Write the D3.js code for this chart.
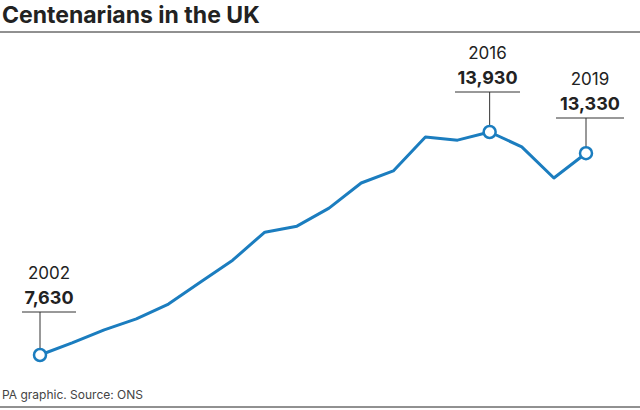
<!DOCTYPE html>
<html><head><meta charset="utf-8">
<script src="https://cdn.jsdelivr.net/npm/d3@7"></script>
<style>body{margin:0;background:#fff;font-family:Inter,"Open Sans",sans-serif}</style>
</head><body>
<script>
var years = [2002,2003,2004,2005,2006,2007,2008,2009,2010,2011,2012,2013,2014,2015,2016,2017,2018,2019];
var values = [7630,7970,8340,8650,9070,9690,10310,11100,11270,11780,12490,12830,13790,13700,13930,13510,12630,13330];
var labelled = [
  {year:2002, value:7630, ly:279, x0:22, x1:76},
  {year:2016, value:13930, ly:59, x0:455, x1:520},
  {year:2019, value:13330, ly:85, x0:556, x1:624}
];

var width = 640, height = 410;
var svg = d3.select("body").append("svg").attr("width", width).attr("height", height);

var x = d3.scaleLinear().domain([2002, 2019]).range([40, 586]);
var y = d3.scaleLinear().domain([7630, 13930]).range([355, 132]);

svg.append("text").attr("x", 2).attr("y", 23).text("Centenarians in the UK")
  .style("font-size", "23px").style("font-weight", "700").style("fill", "#222");
svg.append("line").attr("x1", 0).attr("x2", 640).attr("y1", 32).attr("y2", 32).attr("stroke", "#222");
svg.append("line").attr("x1", 0).attr("x2", 640).attr("y1", 407).attr("y2", 407).attr("stroke", "#222");
svg.append("text").attr("x", 2).attr("y", 399).text("PA graphic. Source: ONS")
  .style("font-size", "12px").style("fill", "#444");

var fmt = d3.format(",");
labelled.forEach(function(d) {
  var cx = (d.x0 + d.x1) / 2;
  var ruleY = d.ly + 33;
  svg.append("text").attr("x", cx).attr("y", d.ly).attr("text-anchor", "middle")
    .text(d.year).style("font-size", "17px").style("fill", "#222");
  svg.append("text").attr("x", cx).attr("y", d.ly + 25).attr("text-anchor", "middle")
    .text(fmt(d.value)).style("font-size", "18px").style("font-weight", "700").style("fill", "#222");
  svg.append("line").attr("x1", d.x0).attr("x2", d.x1).attr("y1", ruleY).attr("y2", ruleY).attr("stroke", "#333");
  svg.append("line").attr("x1", x(d.year)).attr("x2", x(d.year)).attr("y1", ruleY).attr("y2", y(d.value) - 6).attr("stroke", "#333");
});

var data = years.map(function(yr, i) { return {year: yr, value: values[i]}; });
svg.append("path").datum(data)
  .attr("d", d3.line().x(function(d){return x(d.year);}).y(function(d){return y(d.value);}))
  .attr("fill", "none").attr("stroke", "#1b7dbf").attr("stroke-width", 3).attr("stroke-linejoin", "round");

svg.selectAll("circle").data(labelled).enter().append("circle")
  .attr("cx", function(d){return x(d.year);}).attr("cy", function(d){return y(d.value);})
  .attr("r", 6).attr("fill", "#fff").attr("stroke", "#1b7dbf").attr("stroke-width", 2.5);
</script>
</body></html>
